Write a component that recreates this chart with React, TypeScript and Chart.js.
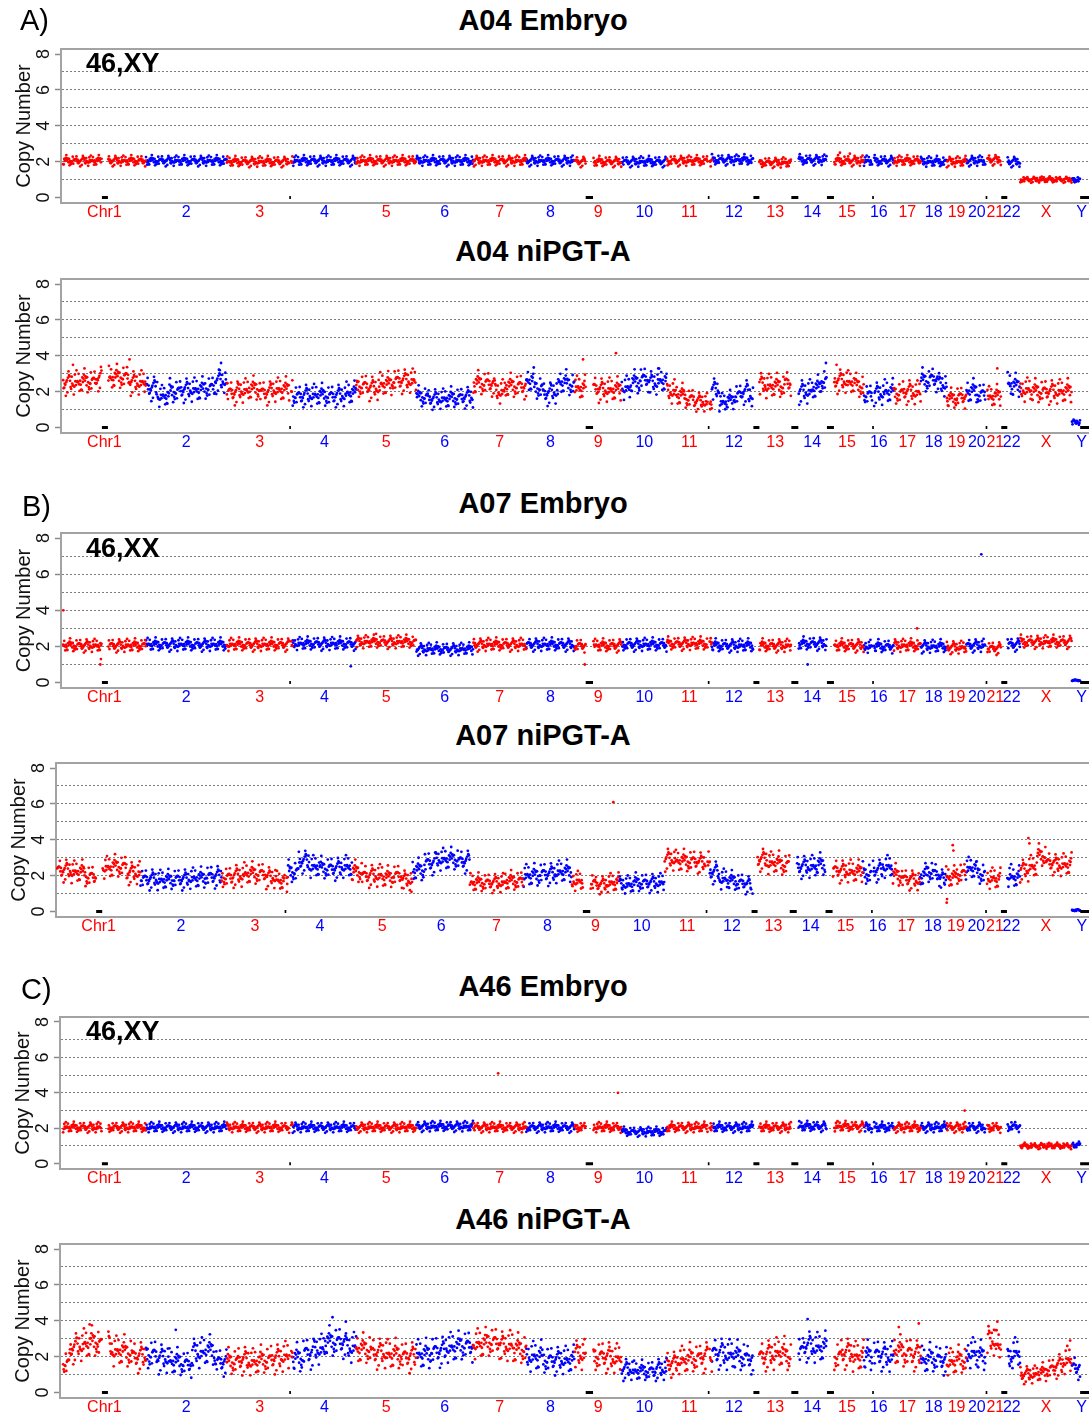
import React, { useEffect, useRef } from 'react';
import { Chart, registerables } from 'chart.js';

Chart.register(...registerables);
Chart.defaults.font.family = '"Liberation Sans", Arial, Helvetica, sans-serif';

// ---------- data ----------
const CHROMOSOMES = ['Chr1', '2', '3', '4', '5', '6', '7', '8', '9', '10', '11', '12', '13', '14', '15', '16', '17', '18', '19', '20', '21', '22', 'X', 'Y'];
const CHROM_LENGTH_MB = [249, 243, 198, 191, 181, 171, 159, 146, 141, 136, 135, 133, 115, 107, 102, 90, 81, 78, 59, 63, 48, 51, 155, 59];
// unmapped regions (genome Mb), drawn as black marks at copy number 0
const GAP_REGIONS_MB = [[117, 135], [680, 685], [1571, 1593], [1938, 1943], [2075, 2093], [2189, 2210], [2296, 2317], [2432, 2437], [2773, 2778], [2820, 2838], [3057, 3160]];
const Y_TICK_LABELS = [0, 2, 4, 6, 8];
const Y_GRID_VALUES = [0, 1, 2, 3, 4, 5, 6, 7, 8];
const BIN_MB = 1.6;

// per-chromosome copy-number levels (segments along each chromosome)
const A04_EMBRYO = [[2.05], [2.05], [2.0], [2.05], [2.05], [2.05], [2.05], [2.05], [2.0], [2.0], [2.05], [2.1], [1.95], [2.1], [2.05], [2.05], [2.05], [2.0], [2.0], [2.05], [2.1], [2.0], [1.0], [1.0]];
const A04_NIPGT = [
  [2.5, 2.55, 2.75, 2.8, 2.5], [2.2, 1.75, 2.0, 2.1, 2.1, 2.2, 2.6], [1.95, 2.05, 2.15, 1.95, 2.1, 2.1], [1.75, 1.8, 1.8, 1.75, 1.8, 1.9],
  [2.3, 2.2, 2.4, 2.6, 2.6], [1.7, 1.6, 1.6, 1.65, 1.7], [2.45, 2.45, 2.0, 2.3, 2.3], [2.6, 2.2, 1.9, 2.0, 2.5, 2.4],
  [2.2, 2.2, 2.1, 2.1], [2.2, 2.5, 2.7, 2.5, 2.6], [2.0, 1.8, 1.6, 1.45, 1.4], [2.1, 1.4, 1.5, 1.8, 2.0, 1.8],
  [2.4, 2.3, 2.3, 2.5], [2.0, 2.0, 2.2, 2.6], [2.6, 2.6, 2.5, 2.3], [1.8, 1.9, 2.0], [1.9, 2.0, 1.95], [2.6, 2.7, 2.4],
  [1.6, 1.7], [2.0, 1.85], [1.7, 1.75], [2.4, 2.3], [2.1, 2.0, 2.0, 2.0, 2.0], [0.3]];
const A07_EMBRYO = [[2.05], [2.1], [2.1], [2.15], [2.25], [1.85], [2.1], [2.1], [2.05], [2.1], [2.15], [2.05], [2.05], [2.15], [2.05], [2.0], [2.05], [2.0], [1.95], [2.05], [1.9], [2.1], [2.25], [0.12]];
const A07_NIPGT = [
  [2.3, 2.2, 1.95, 2.45, 2.5, 2.15], [1.8, 1.75, 1.8, 1.85, 1.95], [1.9, 2.0, 2.1, 2.1, 1.9, 1.7], [2.2, 2.8, 2.5, 2.4, 2.4, 2.5],
  [2.2, 2.0, 2.0, 1.9, 2.0, 1.75], [2.3, 2.7, 2.9, 2.9, 2.8], [1.6, 1.6, 1.7], [2.0, 2.1, 2.2],
  [1.7, 1.6, 1.5, 1.6], [1.5, 1.6, 1.6], [2.9, 2.8, 2.8, 2.7], [2.2, 1.8, 1.7, 1.6, 1.5],
  [2.9, 2.7, 2.6], [2.5, 2.5, 2.6], [2.3, 2.25, 2.2], [2.1, 2.3, 2.5], [2.0, 1.8, 1.75], [2.0, 2.2, 2.1, 1.8],
  [1.9, 2.1], [2.4, 2.1], [1.85, 1.8], [2.0, 1.9], [2.3, 2.5, 3.1, 2.7, 2.6, 2.6], [0.08]];
const A46_EMBRYO = [[2.05], [2.05], [2.05], [2.05], [2.05], [2.1], [2.05], [2.05], [2.05], [1.8], [2.05], [2.05], [2.05], [2.1], [2.1], [2.05], [2.05], [2.05], [2.05], [2.05], [2.05], [2.1], [1.0], [1.05]];
const A46_NIPGT = [
  [1.6, 2.5, 2.6, 2.7, 2.8, 2.7, 2.6, 2.3, 2.3, 2.2, 2.0, 2.0], [2.1, 1.9, 1.7, 1.6, 2.2, 2.3, 1.7], [1.7, 1.8, 1.7, 1.8, 1.9, 2.0], [1.9, 2.2, 2.4, 2.8, 2.8, 2.5],
  [2.4, 2.2, 2.1, 2.0], [2.1, 2.3, 2.5, 2.6], [2.7, 2.8, 2.6, 2.4], [2.0, 1.8, 1.8],
  [2.1, 2.0, 2.0, 1.9], [1.3, 1.2, 1.2, 1.3], [1.6, 1.8, 1.9, 2.0], [2.2, 2.1, 2.0, 1.9],
  [2.0, 2.1, 2.2, 2.0], [2.3, 2.6, 2.5, 2.5], [2.0, 2.2, 2.0], [2.0, 2.1, 2.0], [2.3, 2.2, 2.1], [1.8, 1.9, 1.8],
  [1.7, 1.8], [2.2, 2.0], [2.9, 2.6], [1.9, 2.2], [1.0, 1.0, 1.1, 1.3, 1.5, 1.8], [1.4, 1.2]];

// isolated bins: [chromosome index, position in chromosome (Mb), copy number]
const A04_EMBRYO_OUTLIERS = [[14, 30, 2.5], [14, 60, 2.45]];
const A04_NIPGT_OUTLIERS = [[0, 200, 3.8], [0, 30, 3.5], [1, 226, 3.6], [1, 222, 3.2], [8, 25, 3.8], [8, 124, 4.15], [13, 95, 3.6], [14, 20, 3.5], [20, 30, 3.3], [9, 110, 3.3]];
const A07_EMBRYO_OUTLIERS = [[0, 1, 4.0], [0, 112, 1.0], [0, 114, 1.3], [19, 45, 7.1], [3, 175, 0.9], [8, 30, 1.0], [13, 40, 1.0], [4, 60, 2.7], [16, 70, 3.0]];
const A07_NIPGT_OUTLIERS = [[8, 124, 6.1], [18, 20, 3.7], [18, 22, 3.4], [18, 2, 0.5], [18, 3, 0.7], [22, 25, 4.1], [22, 28, 3.8], [4, 178, 1.1], [2, 195, 1.1], [11, 128, 1.0]];
const A46_EMBRYO_OUTLIERS = [[6, 75, 5.1], [8, 130, 4.0], [18, 54, 3.0]];
const A46_NIPGT_OUTLIERS = [[3, 120, 4.2], [3, 160, 3.95], [13, 40, 4.1], [20, 30, 3.95], [20, 20, 3.5], [16, 15, 3.65], [16, 75, 3.85], [0, 80, 3.8], [1, 90, 3.5], [22, 150, 2.9]];

// fixed bin-to-bin scatter texture (relative to each panel's spread)
const JITTER = [
  0.05, -0.32, 0.61, -0.12, 0.24, -0.78, 0.15, -0.41, 0.38, -0.06,
  0.92, -0.21, 0.09, -0.55, 0.29, -0.15, 0.47, -0.88, 0.02, 0.33,
  -0.26, 0.71, -0.09, 0.18, -0.46, 0.11, -0.67, 0.53, -0.03, 0.22,
  -0.36, 0.84, -0.19, 0.07, -0.58, 0.41, -0.11, 0.27, -0.97, 0.14,
  -0.29, 0.66, -0.01, 0.35, -0.49, 0.19, -0.72, 0.45, -0.17, 0.08,
  1.0, -0.39, 0.26, -0.07, 0.57, -0.23, 0.12, -0.62, 0.31, -0.14, 0.76];

const PANELS = [
  { title: 'A04 Embryo', letter: 'A)', karyotype: '46,XY', levels: A04_EMBRYO, outliers: A04_EMBRYO_OUTLIERS, spread: 0.32, seed: 1 },
  { title: 'A04 niPGT-A', letter: '', karyotype: '', levels: A04_NIPGT, outliers: A04_NIPGT_OUTLIERS, spread: 0.75, seed: 2 },
  { title: 'A07 Embryo', letter: 'B)', karyotype: '46,XX', levels: A07_EMBRYO, outliers: A07_EMBRYO_OUTLIERS, spread: 0.4, seed: 3 },
  { title: 'A07 niPGT-A', letter: '', karyotype: '', levels: A07_NIPGT, outliers: A07_NIPGT_OUTLIERS, spread: 0.7, seed: 4 },
  { title: 'A46 Embryo', letter: 'C)', karyotype: '46,XY', levels: A46_EMBRYO, outliers: A46_EMBRYO_OUTLIERS, spread: 0.32, seed: 5 },
  { title: 'A46 niPGT-A', letter: '', karyotype: '', levels: A46_NIPGT, outliers: A46_NIPGT_OUTLIERS, spread: 0.95, seed: 6 },
];

// ---------- layout ----------
const CANVAS_W = 1112;
const PAD_TOP = 6;
const X_AXIS_H = 24;
const PAD_BOTTOM = 2;
const LAYOUT = [
  { plotTop: 49, plotBottom: 203, plotLeft: 61, pxPerMb: 0.334, xMin: -6, titleBase: 31, letterBase: 31, letterX: 20, karyoBase: 72.5 },
  { plotTop: 279, plotBottom: 433, plotLeft: 61, pxPerMb: 0.334, xMin: -6, titleBase: 262 },
  { plotTop: 533, plotBottom: 688, plotLeft: 61, pxPerMb: 0.334, xMin: -6, titleBase: 514, letterBase: 517, letterX: 22, karyoBase: 558 },
  { plotTop: 763, plotBottom: 917, plotLeft: 56, pxPerMb: 0.336, xMin: -3, titleBase: 746 },
  { plotTop: 1017, plotBottom: 1169, plotLeft: 60, pxPerMb: 0.334, xMin: -9, titleBase: 997, letterBase: 1000, letterX: 21, karyoBase: 1041 },
  { plotTop: 1244, plotBottom: 1398, plotLeft: 60, pxPerMb: 0.334, xMin: -9, titleBase: 1230 },
];

const RED = '#ff0000';
const BLUE = '#0000ff';
const FRAME = '#a3a3a3';
const FONT = '"Liberation Sans", Arial, Helvetica, sans-serif';
const TITLE_SIZE = 29;
const KARYO_SIZE = 27;
const LETTER_SIZE = 29;

const CHROM_START_MB: number[] = [];
CHROM_LENGTH_MB.reduce((acc, len) => { CHROM_START_MB.push(acc); return acc + len; }, 0);
const CHROM_CENTER_MB = CHROM_START_MB.map((s, i) => s + CHROM_LENGTH_MB[i] / 2);

const inGap = (g: number) => GAP_REGIONS_MB.some(([a, b]) => g >= a && g <= b);

function buildSeries(levels: number[][], outliers: number[][], spread: number, seed: number) {
  const red: { x: number; y: number }[] = [];
  const blue: { x: number; y: number }[] = [];
  for (let c = 0; c < CHROMOSOMES.length; c++) {
    const len = CHROM_LENGTH_MB[c];
    const start = CHROM_START_MB[c];
    const segs = levels[c];
    let i = 0;
    for (let p = 0.5; p < len; p += BIN_MB) {
      i++;
      const g = start + p;
      if (inGap(g)) continue;
      const lvl = segs[Math.min(segs.length - 1, Math.floor((p / len) * segs.length))];
      const amp = spread * Math.pow(Math.min(1, lvl / 2), 0.8);
      const j = JITTER[(i * 23 + c * 7 + seed * 11) % JITTER.length];
      (c % 2 === 0 ? red : blue).push({ x: g, y: lvl + j * amp });
    }
  }
  for (const [c, p, v] of outliers) {
    (c % 2 === 0 ? red : blue).push({ x: CHROM_START_MB[c] + p, y: v });
  }
  return { red, blue };
}

const gapLine = GAP_REGIONS_MB.flatMap(([a, b]) => [{ x: a, y: 0 }, { x: b, y: 0 }, { x: b + 0.01, y: null as any }]);

const framePlugin = {
  id: 'cnvFrame',
  afterDraw(chart: any) {
    const { ctx, chartArea, scales } = chart;
    const y = scales.y;
    ctx.save();
    ctx.strokeStyle = FRAME;
    ctx.lineWidth = 2;
    ctx.beginPath();
    ctx.moveTo(chartArea.left - 1, chartArea.top);
    ctx.lineTo(chartArea.right, chartArea.top);
    ctx.stroke();
    ctx.fillStyle = '#111';
    ctx.textAlign = 'center';
    ctx.textBaseline = 'middle';
    ctx.font = `18px ${FONT}`;
    for (const v of Y_TICK_LABELS) {
      const py = y.getPixelForValue(v);
      ctx.save();
      ctx.translate(chartArea.left - 17, py);
      ctx.rotate(-Math.PI / 2);
      ctx.fillText(String(v), 0, 0);
      ctx.restore();
    }
    ctx.font = `20px ${FONT}`;
    ctx.save();
    ctx.translate(chartArea.left - 37, (chartArea.top + chartArea.bottom) / 2);
    ctx.rotate(-Math.PI / 2);
    ctx.fillText('Copy Number', 0, 0);
    ctx.restore();
    ctx.restore();
  },
};

function Panel({ idx }: { idx: number }) {
  const ref = useRef<HTMLCanvasElement | null>(null);
  const panel = PANELS[idx];
  const lay = LAYOUT[idx];
  const canvasTop = lay.plotTop - PAD_TOP;
  const canvasH = lay.plotBottom - canvasTop + X_AXIS_H + PAD_BOTTOM;

  useEffect(() => {
    if (!ref.current) return;
    const { red, blue } = buildSeries(panel.levels, panel.outliers, panel.spread, panel.seed);
    const xMax = lay.xMin + (CANVAS_W - lay.plotLeft) / lay.pxPerMb;
    const chart = new Chart(ref.current, {
      type: 'scatter',
      data: {
        datasets: [
          { type: 'line', data: gapLine as any, borderColor: '#000', borderWidth: 3, borderCapStyle: 'butt', pointRadius: 0, spanGaps: false, fill: false },
          { data: red, backgroundColor: RED, pointRadius: 1.4, pointBorderWidth: 0, borderWidth: 0 },
          { data: blue, backgroundColor: BLUE, pointRadius: 1.4, pointBorderWidth: 0, borderWidth: 0 },
        ] as any,
      },
      options: {
        responsive: false,
        animation: false,
        events: [],
        layout: { padding: { top: PAD_TOP, bottom: PAD_BOTTOM, left: 0, right: 0 } },
        plugins: { legend: { display: false }, tooltip: { enabled: false }, title: { display: false } },
        scales: {
          x: {
            type: 'linear',
            min: lay.xMin,
            max: xMax,
            afterBuildTicks: (s: any) => { s.ticks = CHROM_CENTER_MB.map((v) => ({ value: v })); },
            afterFit: (s: any) => { s.height = X_AXIS_H; },
            grid: { display: false, drawTicks: false },
            border: { display: true, color: FRAME, width: 2 },
            ticks: {
              autoSkip: false,
              maxRotation: 0,
              minRotation: 0,
              padding: 0,
              font: { size: 16, family: FONT },
              color: (ctx: any) => (ctx.index % 2 === 0 ? RED : BLUE),
              callback: (_v: any, i: number) => CHROMOSOMES[i],
            },
          },
          y: {
            type: 'linear',
            min: -0.3,
            max: 8.28,
            afterBuildTicks: (s: any) => { s.ticks = Y_GRID_VALUES.map((v) => ({ value: v })); },
            afterFit: (s: any) => { s.width = lay.plotLeft; },
            ticks: { display: false },
            grid: {
              display: true,
              drawTicks: true,
              tickLength: 6,
              lineWidth: 1,
              color: (ctx: any) => (ctx.tick && ctx.tick.value > 0 && ctx.tick.value < 8 ? '#7d7d7d' : 'rgba(0,0,0,0)'),
              tickColor: (ctx: any) => (ctx.tick && ctx.tick.value % 2 === 0 ? '#8a8a8a' : 'rgba(0,0,0,0)'),
              tickWidth: 1.5,
            },
            border: { display: true, color: FRAME, width: 2, dash: [2, 2] },
          },
        },
      } as any,
      plugins: [framePlugin],
    });
    return () => chart.destroy();
  }, [idx]);

  return (
    <>
      <canvas
        ref={ref}
        width={CANVAS_W}
        height={canvasH}
        style={{ position: 'absolute', left: 0, top: canvasTop, width: CANVAS_W, height: canvasH }}
      />
      <div style={{ position: 'absolute', left: 0, width: 1086, top: lay.titleBase - 0.8465 * TITLE_SIZE, fontSize: TITLE_SIZE, lineHeight: `${TITLE_SIZE}px`, fontWeight: 'bold', textAlign: 'center', fontFamily: FONT, color: '#000', whiteSpace: 'nowrap' }}>
        {panel.title}
      </div>
      {panel.letter ? (
        <div style={{ position: 'absolute', left: lay.letterX, top: (lay.letterBase as number) - 0.8465 * LETTER_SIZE, fontSize: LETTER_SIZE, lineHeight: `${LETTER_SIZE}px`, fontFamily: FONT, color: '#000' }}>
          {panel.letter}
        </div>
      ) : null}
      {panel.karyotype ? (
        <div style={{ position: 'absolute', left: 86, top: (lay.karyoBase as number) - 0.8465 * KARYO_SIZE, fontSize: KARYO_SIZE, lineHeight: `${KARYO_SIZE}px`, fontWeight: 'bold', fontFamily: FONT, color: '#000' }}>
          {panel.karyotype}
        </div>
      ) : null}
    </>
  );
}

export default function App() {
  return (
    <div style={{ position: 'absolute', left: 0, top: 0, width: 1089, height: 1418, overflow: 'hidden', background: '#fff' }}>
      {PANELS.map((_, i) => (
        <Panel key={i} idx={i} />
      ))}
    </div>
  );
}
